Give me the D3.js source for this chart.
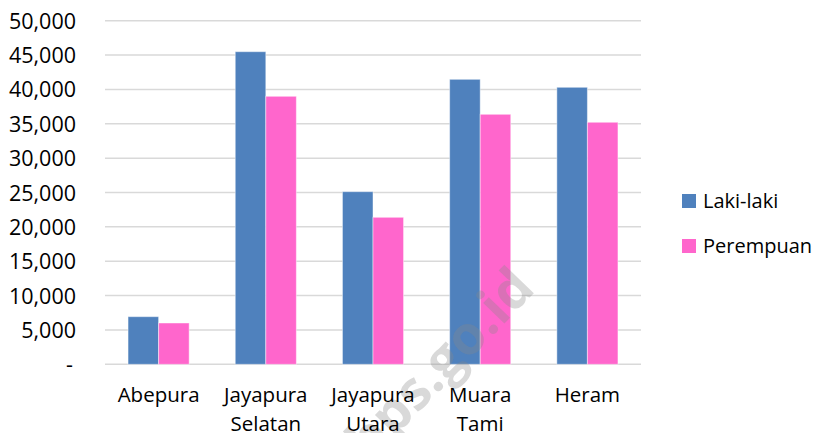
<!DOCTYPE html>
<html>
<head>
<meta charset="utf-8">
<script src="https://cdn.jsdelivr.net/npm/d3@7"></script>
<style>
  html, body { margin: 0; padding: 0; background: #fff; }
  svg { display: block; }
  text { font-family: "Open Sans", "Noto Sans", sans-serif; fill: #000; }
</style>
</head>
<body>
<svg id="chart" width="818" height="433"></svg>
<script>
const categories = [["Abepura"], ["Jayapura", "Selatan"], ["Jayapura", "Utara"], ["Muara", "Tami"], ["Heram"]];
const seriesNames = ["Laki-laki", "Perempuan"];
const lakiLaki = [6930, 45490, 25120, 41470, 40310];
const perempuan = [6010, 39000, 21390, 36380, 35220];
const yTicks = [0, 5000, 10000, 15000, 20000, 25000, 30000, 35000, 40000, 45000, 50000];
const colors = ["#4F81BD", "#FF66CC"];

const svg = d3.select("#chart");
const plot = { left: 105, right: 641, top: 20.7, bottom: 364.3 };

const catKeys = categories.map(c => c.join(" "));
const x = d3.scaleBand().domain(catKeys).range([plot.left, plot.right]).paddingInner(0.43).paddingOuter(0.215);
const xs = d3.scaleBand().domain(seriesNames).range([0, x.bandwidth()]);
const y = d3.scaleLinear().domain([0, 50000]).range([plot.bottom, plot.top]);

// gridlines
svg.append("g").selectAll("line").data(yTicks).join("line")
  .attr("x1", plot.left).attr("x2", plot.right)
  .attr("y1", d => y(d)).attr("y2", d => y(d))
  .attr("stroke", "#D9D9D9").attr("stroke-width", 1.5);

// y axis labels
const yAxis = d3.axisLeft(y).tickValues(yTicks).tickSize(0).tickPadding(0)
  .tickFormat(d => d === 0 ? "-" : d3.format(",")(d));
const gy = svg.append("g").attr("transform", "translate(76,0)").call(yAxis);
gy.select(".domain").remove();
gy.selectAll("text").style("font-size", "21.5px").attr("font-family", null).attr("dy", "0.35em");
gy.selectAll(".tick").filter(d => d === 0).select("text").attr("dx", "-3");

// bars
const rows = catKeys.map((k, i) => ({ key: k, values: [lakiLaki[i], perempuan[i]] }));
const groups = svg.append("g").selectAll("g").data(rows).join("g")
  .attr("transform", d => `translate(${x(d.key)},0)`);
groups.selectAll("rect").data(d => d.values.map((v, j) => ({ s: seriesNames[j], v, j }))).join("rect")
  .attr("x", d => xs(d.s)).attr("width", xs.bandwidth())
  .attr("y", d => y(d.v)).attr("height", d => y(0) - y(d.v))
  .attr("fill", d => colors[d.j])
  .attr("stroke", "#ffffff").attr("stroke-opacity", 0.45).attr("stroke-width", 1);

// watermark
svg.append("text")
  .attr("transform", "translate(438,362) rotate(-46)")
  .attr("text-anchor", "middle").attr("dominant-baseline", "central")
  .style("font-size", "54px").style("font-weight", "bold")
  .style("fill", "#888888").style("fill-opacity", 0.32)
  .text("bps.go.id");

// x axis labels
const xl = svg.append("g").selectAll("text").data(categories).join("text")
  .attr("x", (d, i) => x(catKeys[i]) + x.bandwidth() / 2)
  .attr("y", 402)
  .attr("text-anchor", "middle")
  .style("font-size", "20.5px");
xl.selectAll("tspan").data(d => d).join("tspan")
  .attr("x", function () { return d3.select(this.parentNode).attr("x"); })
  .attr("dy", (d, i) => i === 0 ? 0 : 29)
  .text(d => d);

// legend
const legend = svg.append("g").selectAll("g").data(seriesNames).join("g")
  .attr("transform", (d, i) => `translate(682,${201 + i * 45})`);
legend.append("rect").attr("x", 0).attr("y", -7).attr("width", 14).attr("height", 14)
  .attr("fill", (d, i) => colors[i]);
legend.append("text").attr("x", 21).attr("y", 0).attr("dy", "0.35em")
  .style("font-size", "20px").text(d => d);
</script>
</body>
</html>
